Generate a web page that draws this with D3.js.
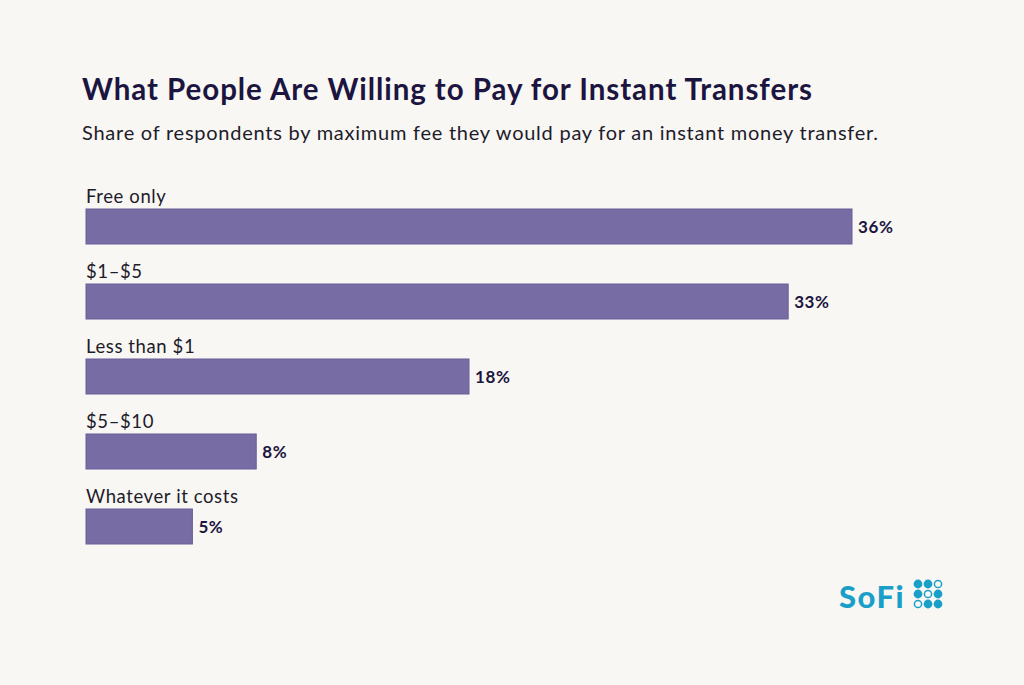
<!DOCTYPE html>
<html>
<head>
<meta charset="utf-8">
<script src="https://cdn.jsdelivr.net/npm/d3@7"></script>
<style>
  body { margin: 0; background: #f8f7f4; }
  text { font-family: Lato, "Open Sans", sans-serif; }
</style>
</head>
<body>
<div id="canvas"></div>
<script>
const categories = ["Free only", "$1–$5", "Less than $1", "$5–$10", "Whatever it costs"]
const shares = [36, 33, 18, 8, 5]
const logoDots = [1, 1, 0, 1, 0, 1, 0, 1, 1]

const width = 1024
const height = 685

const svg = d3.select("#canvas").append("svg")
    .attr("width", width)
    .attr("height", height)

svg.append("rect")
    .attr("width", width)
    .attr("height", height)
    .attr("fill", "#f8f7f4")

// stretch text a little so it spans what the reference font does
function fitWidth(sel, target) {
    sel.each(function () {
        const n = this.textContent.length
        const w = this.getComputedTextLength()
        if (n > 1) d3.select(this).attr("letter-spacing", (target - w) / (n - 1))
    })
}

svg.append("text")
    .attr("x", 82)
    .attr("y", 100)
    .attr("font-size", 29.5)
    .attr("font-weight", 700)
    .attr("fill", "#1b1540")
    .text("What People Are Willing to Pay for Instant Transfers")
    .call(fitWidth, 730)

svg.append("text")
    .attr("x", 82)
    .attr("y", 140)
    .attr("font-size", 20)
    .attr("fill", "#1e1c2a")
    .text("Share of respondents by maximum fee they would pay for an instant money transfer.")
    .call(fitWidth, 796)

const x = d3.scaleLinear()
    .domain([0, 36])
    .range([86, 852])

const y = d3.scaleBand()
    .domain(categories)
    .range([184, 559])
    .paddingInner(0)

const data = categories.map((c, i) => ({ name: c, value: shares[i] }))
const barTop = 25
const barH = 35

const rows = svg.selectAll("g.row").data(data)
    .enter()
    .append("g")
    .attr("class", "row")

rows.append("text")
    .attr("x", 86)
    .attr("y", d => y(d.name) + 19)
    .attr("font-size", 18.5)
    .attr("fill", "#1e1c2a")
    .attr("letter-spacing", 0.6)
    .text(d => d.name)

rows.append("rect")
    .attr("x", x(0))
    .attr("y", d => y(d.name) + barTop)
    .attr("width", d => x(d.value) - x(0))
    .attr("height", barH)
    .attr("fill", "#776ca3")
    .attr("stroke", "#6a5e98")
    .attr("stroke-width", 1)

rows.append("text")
    .attr("x", d => x(d.value) + 6)
    .attr("y", d => y(d.name) + barTop + barH / 2 + 6)
    .attr("font-size", 17)
    .attr("font-weight", 700)
    .attr("fill", "#1b1540")
    .attr("letter-spacing", 0.6)
    .text(d => d.value + "%")

// logo
const logo = svg.append("g")
svg.append("text")
    .attr("x", 839)
    .attr("y", 608)
    .attr("font-size", 31)
    .attr("font-weight", 900)
    .attr("fill", "#1aa0c8")
    .attr("letter-spacing", 1.5)
    .text("SoFi")

logo.selectAll("circle").data(logoDots)
    .enter()
    .append("circle")
    .attr("cx", (d, i) => 918 + (i % 3) * 10)
    .attr("cy", (d, i) => 584 + Math.floor(i / 3) * 10)
    .attr("r", d => d ? 4.4 : 3.6)
    .attr("fill", d => d ? "#1aa0c8" : "none")
    .attr("stroke", "#1aa0c8")
    .attr("stroke-width", d => d ? 0 : 1.5)
</script>
</body>
</html>
